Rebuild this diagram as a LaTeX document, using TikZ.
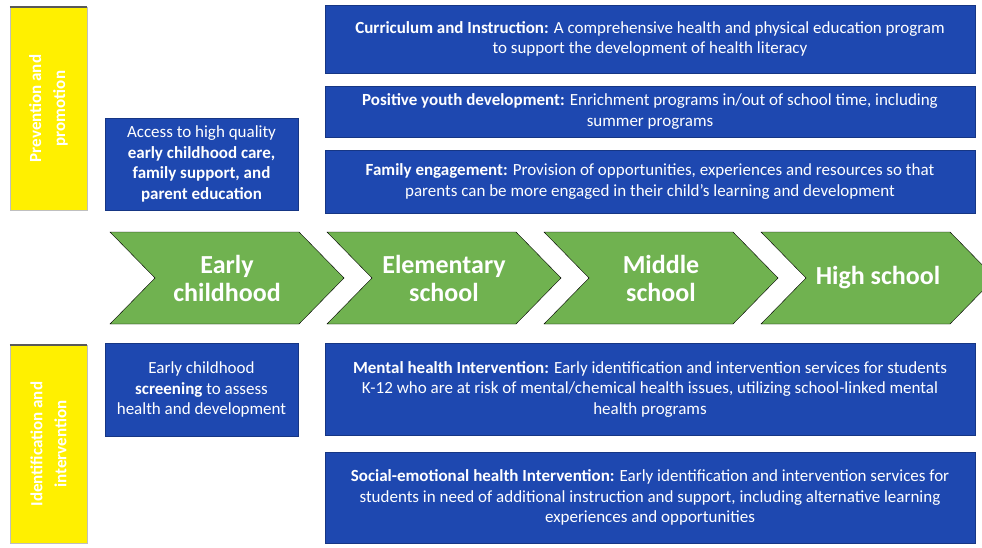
\documentclass[tikz,border=0pt]{standalone}
\usepackage{fontspec}
\setmainfont{Carlito}
\definecolor{boxblue}{RGB}{30,72,176}
\definecolor{stagegreen}{RGB}{112,178,80}
\definecolor{tagyellow}{RGB}{255,240,0}

\begin{document}
\begin{tikzpicture}[x=1pt, y=-1pt,
  every node/.style={font=\fontsize{17}{20.5}\selectfont, text=white, inner sep=0pt},
  infobox/.style={fill=boxblue, draw=boxblue!75!black, align=center},
  tagbox/.style={fill=tagyellow, draw=gray!50},
  chevron/.style={fill=stagegreen},
  stage/.style={font=\fontsize{26}{28}\selectfont\bfseries, align=center}]
  \clip (0,0) rectangle (982,548);

  % Side tags
  \node[tagbox, minimum width=77pt, minimum height=203pt] (promo) at (48.5,108.5) {};
  \draw[gray!70!black, line width=1.5pt] (promo.north west) -- (promo.north east);
  \node[rotate=90, align=center, font=\fontsize{17}{24}\selectfont\bfseries] at (promo.center) {Prevention and\\promotion};
  \node[tagbox, minimum width=77pt, minimum height=198pt] (ident) at (48.5,444) {};
  \draw[gray!70!black, line width=1.5pt] (ident.north west) -- (ident.north east);
  \node[rotate=90, align=center, font=\fontsize{17}{24}\selectfont\bfseries] at (ident.center) {Identification and\\intervention};

  % Promotion boxes
  \node[infobox, minimum width=650pt, minimum height=68pt] (curric) at (650,39)
    {\textbf{Curriculum and Instruction:} A comprehensive health and physical education program\\to support the development of health literacy};
  \node[infobox, minimum width=650pt, minimum height=51pt] (youth) at (650,111.5)
    {\textbf{Positive youth development:} Enrichment programs in/out of school time, including\\summer programs};
  \node[infobox, minimum width=650pt, minimum height=63pt] (family) at (650,181.5)
    {\textbf{Family engagement:} Provision of opportunities, experiences and resources so that\\parents can be more engaged in their child's learning and development};
  \node[infobox, minimum width=193pt, minimum height=92pt] (access) at (201.5,164)
    {Access to high quality\\\textbf{early childhood care,}\\\textbf{family support, and}\\\textbf{parent education}};

  % Stages
  \foreach \x/\name/\txt in {110/early/{Early\\childhood}, 327/elem/{Elementary\\school},
                             544/middle/{Middle\\school}, 761/high/{High school}} {
    \draw[chevron] (\x,232) -- ++(189,0) -- ++(45,46) -- ++(-45,46) -- ++(-189,0)
      -- ++(45,-46) -- cycle;
    \node[stage] (\name) at (\x+117,278) {\txt};
  }

  % Intervention boxes
  \node[infobox, minimum width=193pt, minimum height=93pt] (screen) at (201.5,389.5)
    {Early childhood\\\textbf{screening} to assess\\health and development};
  \node[infobox, minimum width=650pt, minimum height=92pt] (mental) at (650,389)
    {\textbf{Mental health Intervention:} Early identification and intervention services for students\\K-12 who are at risk of mental/chemical health issues, utilizing school-linked mental\\health programs};
  \node[infobox, minimum width=650pt, minimum height=91pt] (social) at (650,497.5)
    {\textbf{Social-emotional health Intervention:} Early identification and intervention services for\\students in need of additional instruction and support, including alternative learning\\experiences and opportunities};
\end{tikzpicture}
\end{document}
